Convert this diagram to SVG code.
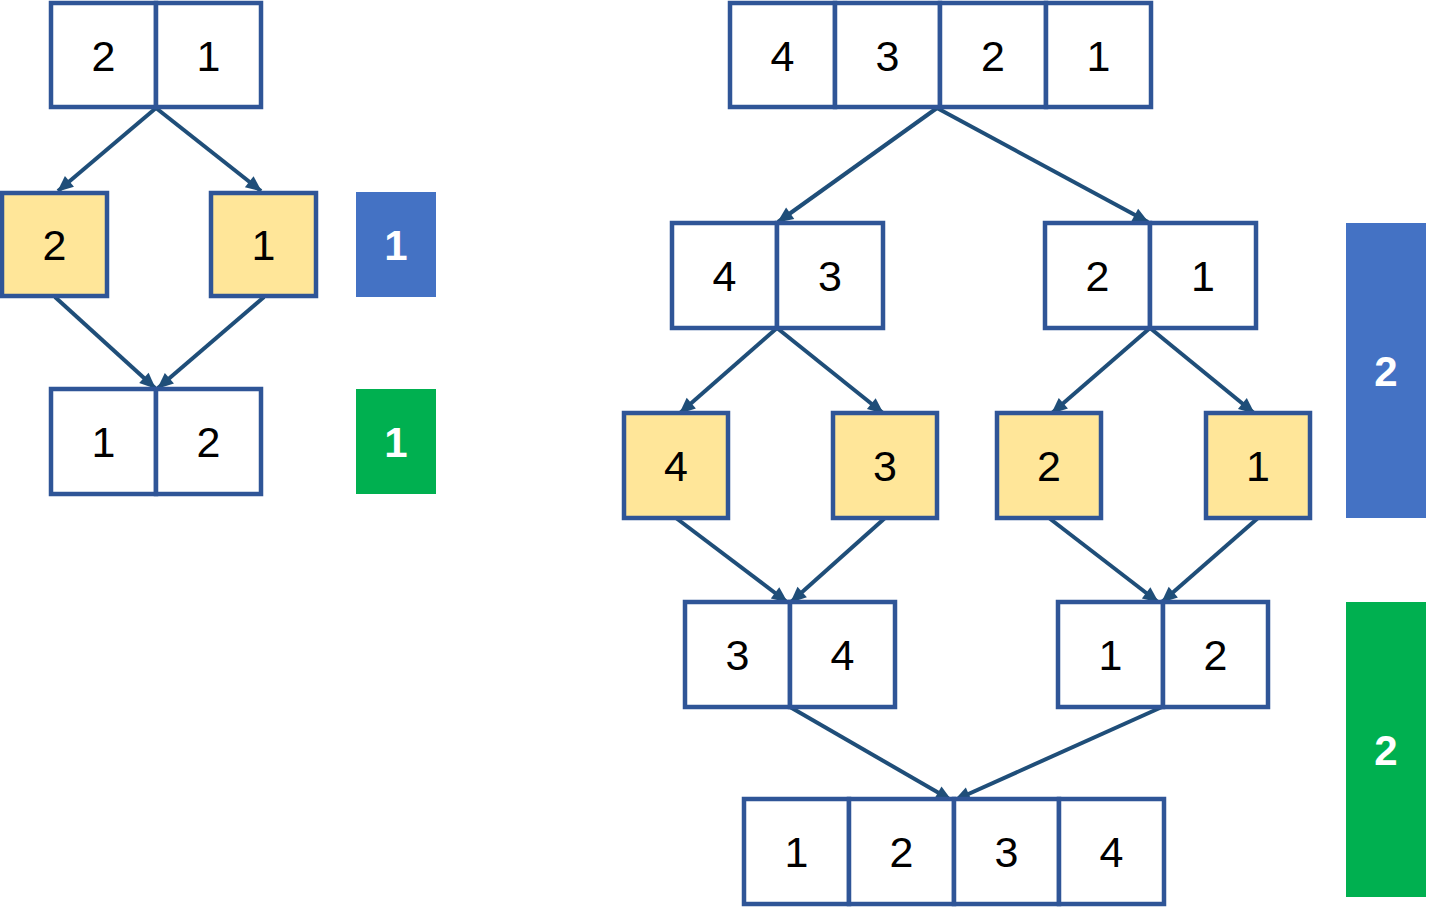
<svg xmlns="http://www.w3.org/2000/svg" width="1429" height="913" viewBox="0 0 1429 913">
  <style>
    .cell { fill: #FFFFFF; stroke: #2F5597; stroke-width: 4.5; }
    .leaf { fill: #FFE699; stroke: #2F5597; stroke-width: 4.5; }
    .num { font-family: "Liberation Sans", Arial, sans-serif; font-size: 43px; fill: #000000; text-anchor: middle; }
    .badge-text { font-family: "Liberation Sans", Arial, sans-serif; font-size: 42px; font-weight: bold; fill: #FFFFFF; text-anchor: middle; }
    .edge { stroke: #1F4E79; stroke-width: 4; fill: none; marker-end: url(#arrow); }
  </style>
  <defs>
    <marker id="arrow" markerUnits="userSpaceOnUse" markerWidth="18" markerHeight="18" viewBox="0 0 18 18" refX="16" refY="9" orient="auto">
      <path d="M1,2 L17,9 L1,16 Z" fill="#1F4E79"/>
    </marker>
  </defs>
  <rect width="1429" height="913" fill="#FFFFFF"/>

  <!-- connectors -->
  <g id="connectors">
    <line class="edge" x1="156" y1="108" x2="58" y2="191"/>
    <line class="edge" x1="156" y1="108" x2="261" y2="191"/>
    <line class="edge" x1="55" y1="297" x2="155" y2="388"/>
    <line class="edge" x1="264" y1="297" x2="158" y2="388"/>

    <line class="edge" x1="937" y1="108" x2="778" y2="222"/>
    <line class="edge" x1="937" y1="108" x2="1148" y2="222"/>
    <line class="edge" x1="777" y1="328" x2="680" y2="413"/>
    <line class="edge" x1="777" y1="328" x2="883" y2="413"/>
    <line class="edge" x1="1150" y1="328" x2="1052" y2="413"/>
    <line class="edge" x1="1150" y1="328" x2="1254" y2="413"/>
    <line class="edge" x1="676" y1="518" x2="787" y2="602"/>
    <line class="edge" x1="885" y1="518" x2="791" y2="602"/>
    <line class="edge" x1="1049" y1="518" x2="1158" y2="602"/>
    <line class="edge" x1="1258" y1="518" x2="1162" y2="602"/>
    <line class="edge" x1="790" y1="707" x2="951" y2="800"/>
    <line class="edge" x1="1162" y1="707" x2="955" y2="800"/>
  </g>

  <!-- two-element example -->
  <g id="left-top">
    <rect class="cell" x="51" y="3" width="105" height="104"/>
    <rect class="cell" x="156" y="3" width="105" height="104"/>
    <text class="num" x="103.5" y="71">2</text>
    <text class="num" x="208.5" y="71">1</text>
  </g>
  <g id="left-leaf-2">
    <rect class="leaf" x="2" y="193" width="105" height="103"/>
    <text class="num" x="54.5" y="260">2</text>
  </g>
  <g id="left-leaf-1">
    <rect class="leaf" x="211" y="193" width="105" height="103"/>
    <text class="num" x="263.5" y="260">1</text>
  </g>
  <g id="left-merged">
    <rect class="cell" x="51" y="389" width="105" height="105"/>
    <rect class="cell" x="156" y="389" width="105" height="105"/>
    <text class="num" x="103.5" y="457">1</text>
    <text class="num" x="208.5" y="457">2</text>
  </g>
  <g id="left-split-count">
    <rect x="356" y="192" width="80" height="105" fill="#4472C4"/>
    <text class="badge-text" x="396" y="260">1</text>
  </g>
  <g id="left-merge-count">
    <rect x="356" y="389" width="80" height="105" fill="#00B050"/>
    <text class="badge-text" x="396" y="457">1</text>
  </g>

  <!-- four-element example -->
  <g id="right-top">
    <rect class="cell" x="730" y="3" width="105" height="104"/>
    <rect class="cell" x="835" y="3" width="105" height="104"/>
    <rect class="cell" x="940" y="3" width="106" height="104"/>
    <rect class="cell" x="1046" y="3" width="105" height="104"/>
    <text class="num" x="782.5" y="71">4</text>
    <text class="num" x="887.5" y="71">3</text>
    <text class="num" x="993" y="71">2</text>
    <text class="num" x="1098.5" y="71">1</text>
  </g>
  <g id="right-half-43">
    <rect class="cell" x="672" y="223" width="105" height="105"/>
    <rect class="cell" x="777" y="223" width="106" height="105"/>
    <text class="num" x="724.5" y="291">4</text>
    <text class="num" x="830" y="291">3</text>
  </g>
  <g id="right-half-21">
    <rect class="cell" x="1045" y="223" width="105" height="105"/>
    <rect class="cell" x="1150" y="223" width="106" height="105"/>
    <text class="num" x="1097.5" y="291">2</text>
    <text class="num" x="1203" y="291">1</text>
  </g>
  <g id="right-leaf-4">
    <rect class="leaf" x="624" y="413" width="104" height="105"/>
    <text class="num" x="676" y="481">4</text>
  </g>
  <g id="right-leaf-3">
    <rect class="leaf" x="833" y="413" width="104" height="105"/>
    <text class="num" x="885" y="481">3</text>
  </g>
  <g id="right-leaf-2">
    <rect class="leaf" x="997" y="413" width="104" height="105"/>
    <text class="num" x="1049" y="481">2</text>
  </g>
  <g id="right-leaf-1">
    <rect class="leaf" x="1206" y="413" width="104" height="105"/>
    <text class="num" x="1258" y="481">1</text>
  </g>
  <g id="right-merged-34">
    <rect class="cell" x="685" y="602" width="105" height="105"/>
    <rect class="cell" x="790" y="602" width="105" height="105"/>
    <text class="num" x="737.5" y="670">3</text>
    <text class="num" x="842.5" y="670">4</text>
  </g>
  <g id="right-merged-12">
    <rect class="cell" x="1058" y="602" width="105" height="105"/>
    <rect class="cell" x="1163" y="602" width="105" height="105"/>
    <text class="num" x="1110.5" y="670">1</text>
    <text class="num" x="1215.5" y="670">2</text>
  </g>
  <g id="right-result">
    <rect class="cell" x="744" y="799" width="105" height="105"/>
    <rect class="cell" x="849" y="799" width="105" height="105"/>
    <rect class="cell" x="954" y="799" width="105" height="105"/>
    <rect class="cell" x="1059" y="799" width="105" height="105"/>
    <text class="num" x="796.5" y="867">1</text>
    <text class="num" x="901.5" y="867">2</text>
    <text class="num" x="1006.5" y="867">3</text>
    <text class="num" x="1111.5" y="867">4</text>
  </g>
  <g id="right-split-count">
    <rect x="1346" y="223" width="80" height="295" fill="#4472C4"/>
    <text class="badge-text" x="1386" y="386">2</text>
  </g>
  <g id="right-merge-count">
    <rect x="1346" y="602" width="80" height="295" fill="#00B050"/>
    <text class="badge-text" x="1386" y="765">2</text>
  </g>
</svg>
